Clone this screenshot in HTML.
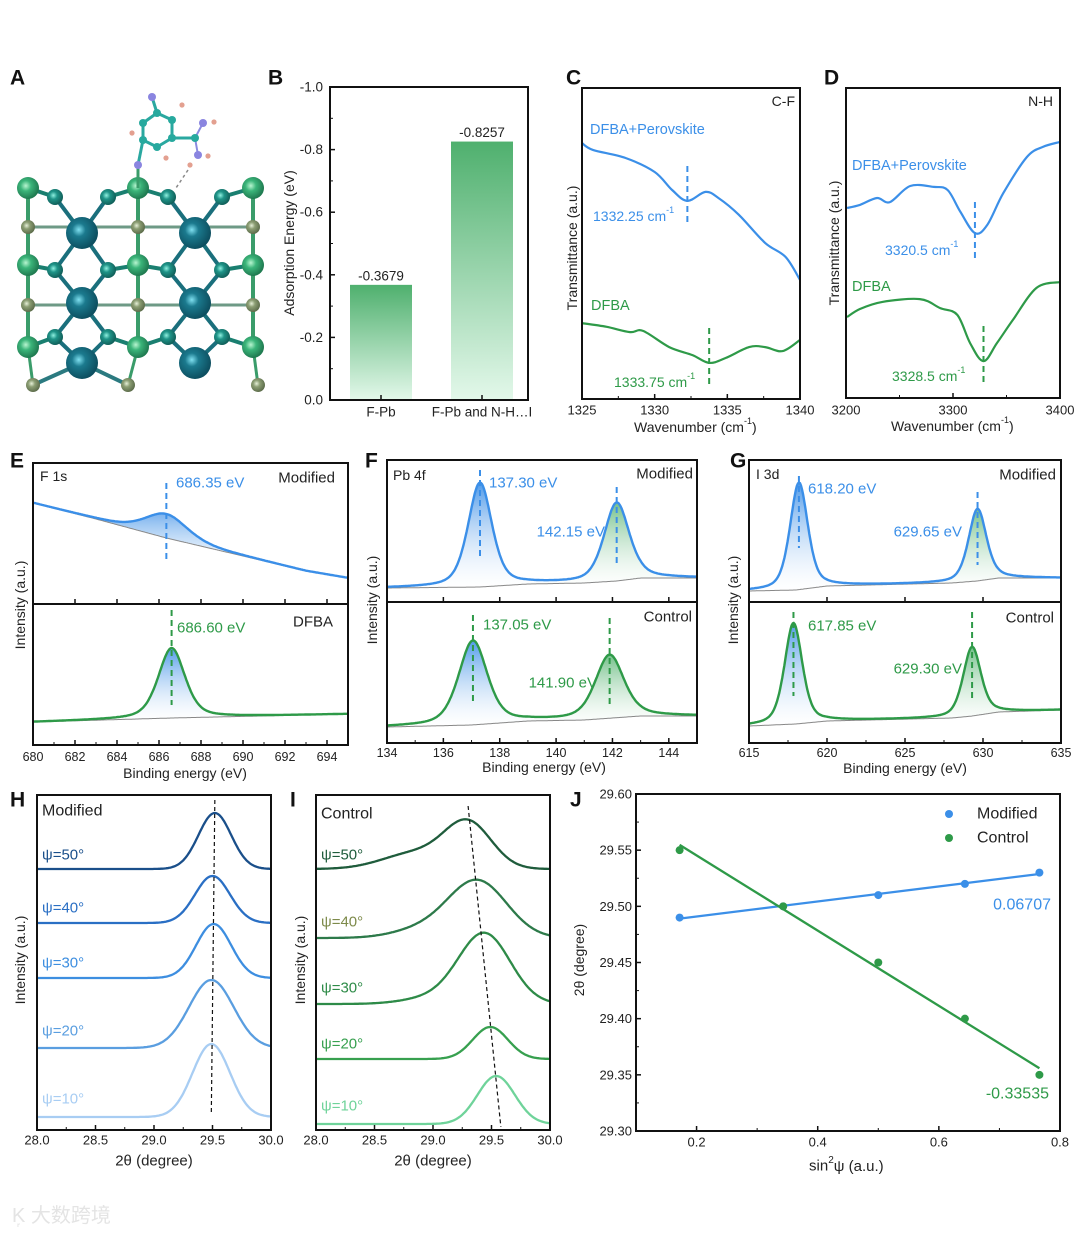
<!DOCTYPE html>
<html><head><meta charset="utf-8"><style>
html,body{margin:0;padding:0;background:#fff;}
svg{display:block;font-family:"Liberation Sans",Arial,sans-serif;}
</style></head><body>
<svg id="fig" width="1080" height="1234" viewBox="0 0 1080 1234" xmlns="http://www.w3.org/2000/svg">
<defs>
<linearGradient id="gBar" x1="0" y1="0" x2="0" y2="1"><stop offset="0" stop-color="#4fb06e"/><stop offset="1" stop-color="#e3f8ea"/></linearGradient>
<linearGradient id="gBlue" x1="0" y1="0" x2="0" y2="1"><stop offset="0" stop-color="#3d8fe6" stop-opacity="0.9"/><stop offset="1" stop-color="#ffffff" stop-opacity="0.2"/></linearGradient>
<linearGradient id="gGreen" x1="0" y1="0" x2="0" y2="1"><stop offset="0" stop-color="#3aa65a" stop-opacity="0.7"/><stop offset="1" stop-color="#ffffff" stop-opacity="0.2"/></linearGradient>
<radialGradient id="aPb" cx="0.4" cy="0.4" r="0.6"><stop offset="0" stop-color="#7fe0f0"/><stop offset="0.35" stop-color="#1b7a8e"/><stop offset="1" stop-color="#0d4f60"/></radialGradient>
<radialGradient id="aI" cx="0.4" cy="0.4" r="0.6"><stop offset="0" stop-color="#b8f5d0"/><stop offset="0.4" stop-color="#3bb57a"/><stop offset="1" stop-color="#1f7a50"/></radialGradient>
<radialGradient id="aS" cx="0.4" cy="0.4" r="0.6"><stop offset="0" stop-color="#8ff0e0"/><stop offset="0.4" stop-color="#1f9488"/><stop offset="1" stop-color="#11605a"/></radialGradient>
<radialGradient id="aO" cx="0.4" cy="0.4" r="0.6"><stop offset="0" stop-color="#e6f0d8"/><stop offset="0.4" stop-color="#8c9e74"/><stop offset="1" stop-color="#5e6e4c"/></radialGradient>
</defs>
<g id="panelA"></g>
<g id="root"></g>
<text x="12" y="1222" font-size="20" fill="#e4e4e4" font-family="'Liberation Sans','Noto Sans CJK SC',sans-serif">K᷊ 大数跨境</text>
</svg>
<script>
// ---------- Data ----------
// B
const bCats = ["F-Pb", "F-Pb and N-H…I"];
const bVals = [-0.3679, -0.8257];
const bTicks = ["0.0","-0.2","-0.4","-0.6","-0.8","-1.0"];
// C (FTIR C-F)
const cBlueX = [1325,1325.75,1328,1330,1331.2,1332.25,1333.5,1334.4,1335.8,1337.6,1339,1340];
const cBlueY = [82.3,80.1,77.5,73,67.2,63.7,66.6,64.6,59.2,50.2,45.7,38.3];
const cGreenX = [1325,1326.7,1328.3,1329.2,1331,1332.6,1333.75,1334.9,1336.5,1337.6,1338.8,1340];
const cGreenY = [24.4,23.2,21.5,21.9,16.7,14.1,11.6,13.2,16.7,16.7,15.4,19];
const cTicks = [1325,1330,1335,1340];
// D (FTIR N-H)
const dBlueX = [3201,3213,3229,3241,3260,3282,3295,3307,3320.5,3332,3347,3369,3384,3400];
const dBlueY = [61.3,62.3,64.5,63.2,68.4,68.1,67.1,60,53.2,55.8,66.1,77.7,81,82.6];
const dGreenX = [3201,3213,3234,3269,3288,3304,3316,3328.5,3341,3356,3378,3400];
const dGreenY = [26.1,28.7,31,31.9,29,26.8,17.7,11.9,17.7,25.2,35.5,37.4];
const dTicks = [3200,3300,3400];
// XPS: background points [x,y] and peaks [center,height,fwhm]
const eTopBg = [[680,101],[683,85],[686.35,66],[690,48],[693,33],[695,26]];
const eTopPeaks = [[686.35,24,2.4]];
const eBotBg = [[680,23],[686.6,27],[695,31]];
const eBotPeaks = [[686.6,70,1.5]];
const fTopBg = [[134,14],[137.3,15],[139,18],[141,19],[142.15,21],[143,24],[145,24]];
const fTopPeaks = [[137.30,104,1.0],[142.15,78,1.05]];
const fBotBg = [[134,16],[137,18],[139,22],[141,23],[142,25],[143,27],[145,27]];
const fBotPeaks = [[137.05,84,1.2],[141.90,63,1.2]];
const gTopBg = [[615,11],[618,12],[620,16],[628,19],[629.6,21],[631,24],[635,24]];
const gTopPeaks = [[618.20,107,1.35],[629.65,72,1.35]];
const gBotBg = [[615,17],[618,19],[620,22],[628,25],[629.3,27],[631,31],[635,33]];
const gBotPeaks = [[617.85,101,1.35],[629.30,69,1.35]];
const eTicks = [680,682,684,686,688,690,692,694];
const fTicks = [134,136,138,140,142,144];
const gTicks = [615,620,625,630,635];
// H / I XRD: offsets, peaks [center,height,sigma]
const psiLabels = ["ψ=50°","ψ=40°","ψ=30°","ψ=20°","ψ=10°"];
const hOffsets = [261,207,152,82,13];
const hPeaks = [[29.52,56,0.14],[29.50,47,0.15],[29.51,54,0.15],[29.49,68,0.19],[29.49,73,0.16]];
const iOffsets = [261,192,126,71,6];
const iPeaks = [[29.30,45,0.2],[29.38,57,0.25],[29.44,70,0.22],[29.49,32,0.15],[29.54,48,0.16]];
const iShoulder = [[28.85,16,0.28],[28.9,8,0.25],[29.0,6,0.25],[29.2,0,0.2],[29.3,0,0.2]];
const xrdTicks = ["28.0","28.5","29.0","29.5","30.0"];
// J
const jX = [0.172,0.343,0.5,0.643,0.766];
const jMod = [29.49,29.50,29.51,29.52,29.53];
const jCtl = [29.55,29.50,29.45,29.40,29.35];
const jXTicks = [0.2,0.4,0.6,0.8];
const jYTicks = [29.30,29.35,29.40,29.45,29.50,29.55,29.60];

// ---------- helpers ----------
const NS="http://www.w3.org/2000/svg";
const root=document.getElementById('root');
function mk(tag,attrs,parent){const e=document.createElementNS(NS,tag);for(const k in attrs)e.setAttribute(k,attrs[k]);(parent||root).appendChild(e);return e;}
function txt(s,x,y,o,parent){const e=mk('text',Object.assign({x:x,y:y,'font-size':14,fill:'#222','dominant-baseline':'central'},o||{}),parent);e.textContent=s;return e;}
function lin(d0,d1,r0,r1){return v=>r0+(v-d0)/(d1-d0)*(r1-r0);}
function pathD(xs,ys){return xs.map((x,i)=>(i?'L':'M')+x.toFixed(1)+','+ys[i].toFixed(1)).join('');}
function smooth(xs,ys){let d='M'+xs[0]+','+ys[0];for(let i=0;i<xs.length-1;i++){const x0=xs[i-1]??xs[i],y0=ys[i-1]??ys[i],x3=xs[i+2]??xs[i+1],y3=ys[i+2]??ys[i+1];const c1x=xs[i]+(xs[i+1]-x0)/6,c1y=ys[i]+(ys[i+1]-y0)/6,c2x=xs[i+1]-(x3-xs[i])/6,c2y=ys[i+1]-(y3-ys[i])/6;d+=`C${c1x.toFixed(1)},${c1y.toFixed(1)} ${c2x.toFixed(1)},${c2y.toFixed(1)} ${xs[i+1].toFixed(1)},${ys[i+1].toFixed(1)}`;}return d;}
function box(x0,y0,x1,y1,name){const r=mk('rect',{x:x0,y:y0,width:x1-x0,height:y1-y0,fill:'none',stroke:'#111','stroke-width':2});return r;}
function letter(s,x,y){const t=txt(s,x,y,{'font-size':21,'font-weight':'bold',fill:'#111'});}
function ylabel(s,x,y,name){const t=txt(s,x,y,{'text-anchor':'middle',transform:`rotate(-90 ${x} ${y})`,'font-size':14});}
function interp(pts,x){for(let i=0;i<pts.length-1;i++){if(x<=pts[i+1][0]){const t=(x-pts[i][0])/(pts[i+1][0]-pts[i][0]);return pts[i][1]+(pts[i+1][1]-pts[i][1])*t;}}return pts[pts.length-1][1];}
function lor(x,p){const g=p[2]/2;const L=1/(1+((x-p[0])/g)**2);const G=Math.exp(-Math.LN2*((x-p[0])/g)**2);return p[1]*(0.45*L+0.55*G);}
function dash(x,y0,y1,col,name){const l=mk('line',{x1:x,x2:x,y1:y0,y2:y1,stroke:col,'stroke-width':2,'stroke-dasharray':'6,4'});}
function tk(x1,y1,x2,y2,w,lo,hi,isX){const v=isX?x1:y1;if(v<lo-0.5||v>hi+0.5)return;mk('line',{x1:x1,y1:y1,x2:x2,y2:y2,stroke:'#111','stroke-width':w});}

// ---------- Panel A (structure) ----------
(function(){
 const g=document.getElementById('panelA');
 const bond=(a,b,c,w)=>{mk('line',{x1:a[0],y1:a[1],x2:b[0],y2:b[1],stroke:c||'#1d7e7a','stroke-width':w||4},g);};
 const cols=[28,138,253], pbX=[82,195], smX=[55,108,168,222];
 const Irows=[188,265,347], Orows=[227,305], smRows=[197,270,337], pbRows=[233,303,363];
 cols.forEach(x=>{bond([x,188],[x,347],'#3a9c6a',4);});
 [227,305].forEach(y=>bond([28,y],[253,y],'#6e9a86',3));
 pbX.forEach((px,k)=>{pbRows.forEach(py=>{[smX[2*k],smX[2*k+1]].forEach(sx=>{smRows.forEach(sy=>{if(Math.abs(sy-py)<45)bond([px,py],[sx,sy],'#1a6f7c',4);});});});});
 smRows.forEach((sy,ri)=>{smX.forEach(sx=>{const cx=cols.reduce((a,c)=>Math.abs(c-sx)<Math.abs(a-sx)?c:a);bond([sx,sy],[cx,Irows[ri]],'#1a7f70',4);});});
 bond([33,385],[82,363],'#2b7a80',4);bond([128,385],[82,363],'#2b7a80',4);bond([258,385],[253,347],'#3a9c6a',3);bond([28,347],[33,385],'#3a9c6a',3);bond([138,347],[128,385],'#3a9c6a',3);
 const at=(x,y,r,f)=>{mk('circle',{cx:x,cy:y,r:r,fill:f},g);};
 Orows.forEach(y=>cols.forEach(x=>at(x,y,7,'url(#aO)')));
 [[33,385],[128,385],[258,385]].forEach(p=>at(p[0],p[1],7,'url(#aO)'));
 smRows.forEach(y=>smX.forEach(x=>at(x,y,8,'url(#aS)')));
 Irows.forEach(y=>cols.forEach(x=>at(x,y,11,'url(#aI)')));
 pbRows.forEach(y=>pbX.forEach(x=>at(x,y,16,'url(#aPb)')));
 const ring=[[143,123],[157,113],[172,120],[172,138],[157,147],[143,140]];
 ring.forEach((p,i)=>bond(p,ring[(i+1)%6],'#2aa8a0',3));
 bond([143,140],[138,165],'#2aa8a0',3);bond([138,165],[138,188],'#3a9c6a',3);
 bond([157,113],[152,97],'#2aa8a0',3);bond([172,138],[195,138],'#2aa8a0',3);
 bond([195,138],[203,123],'#8a8ae0',2);bond([195,138],[198,155],'#8a8ae0',2);
 mk('line',{x1:188,y1:170,x2:176,y2:188,stroke:'#888','stroke-width':1.5,'stroke-dasharray':'3,3'},g);
 ring.forEach(p=>at(p[0],p[1],4,'#27a99e'));at(195,138,4,'#27a99e');
 [[152,97],[138,165],[203,123],[198,155]].forEach(p=>at(p[0],p[1],4,'#8a85e0'));
 [[132,133],[182,105],[166,158],[214,122],[208,156],[190,165]].forEach(p=>at(p[0],p[1],2.6,'#e3a090'));
})();

// ---------- Panel letters ----------
[["A",10,78],["B",268,78],["C",566,78],["D",824,78],["E",10,461],["F",365,461],["G",730,461],["H",10,800],["I",290,800],["J",570,800]].forEach(a=>letter(a[0],a[1],a[2]));

// ---------- Panel B ----------
(function(){
 const X0=330,X1=528,Y0=87,Y1=400; const y=lin(0,-1,Y1,Y0);
 const cx=[381,482], bw=62;
 bVals.forEach((v,i)=>{
  const r=mk('rect',{x:cx[i]-bw/2,y:y(v),width:bw,height:y(0)-y(v),fill:'url(#gBar)'});
  
  
  const t=txt(v.toFixed(4),cx[i],y(v)-9,{'text-anchor':'middle','font-size':13.5});
  
  
  const c=txt(bCats[i],cx[i],412,{'text-anchor':'middle','font-size':13.5});
  
  
  mk('line',{x1:cx[i],x2:cx[i],y1:Y1,y2:Y1-5,stroke:'#111','stroke-width':1.5});
 });
 bTicks.forEach(s=>{const v=parseFloat(s);tk(X0,y(v),X0+5,y(v),1.5,Y0,Y1,false);tk(X0,y(v+0.1),X0+3,y(v+0.1),1,Y0,Y1,false);
  const t=txt(s,323,y(v),{'text-anchor':'end','font-size':13.5});});
 box(X0,Y0,X1,Y1,'panel-b-axes');
 ylabel('Adsorption Energy (eV)',289,243,'y-axis-title-b');
})();

// ---------- Panels C, D ----------
function ftir(X0,X1,Y0,Y1,d0,d1,series,ticks,minor,cfg){
 const x=lin(d0,d1,X0,X1), y=lin(0,100,Y1,Y0);
 series.forEach(s=>{const p=mk('path',{d:smooth(s.xs.map(x),s.ys.map(y)),fill:'none',stroke:s.col,'stroke-width':2.2});});
 ticks.forEach(t=>{mk('line',{x1:x(t),x2:x(t),y1:Y1,y2:Y1-5,stroke:'#111','stroke-width':1.5});const l=txt(String(t),x(t),410,{'text-anchor':'middle','font-size':13});});
 for(let t=d0;t<=d1+1e-6;t+=minor)tk(x(t),Y1,x(t),Y1-3,1,X0,X1,true);
 box(X0,Y0,X1,Y1,cfg.name);
 return x;
}
(function(){
 const x=ftir(582,800,88,399,1325,1340,[{xs:cBlueX,ys:cBlueY,col:'#3b8fe8',name:'c-blue-curve'},{xs:cGreenX,ys:cGreenY,col:'#2e9a48',name:'c-green-curve'}],cTicks,2.5,{name:'panel-c-axes'});
 dash(x(1332.25),166,226,'#3b8fe8','c-blue-peak-marker');dash(x(1333.75),328,388,'#2e9a48','c-green-peak-marker');
 txt('C-F',795,101,{'text-anchor':'end','font-size':14});
 txt('DFBA+Perovskite',590,130,{'font-size':14.5,fill:'#3b8fe8'});
 const a=txt('1332.25 cm',593,216,{'font-size':14,fill:'#3b8fe8'});const s1=mk('tspan',{dy:-6,'font-size':9},a);s1.textContent='-1';
 txt('DFBA',591,306,{'font-size':14.5,fill:'#2e9a48'});
 const b=txt('1333.75 cm',614,382,{'font-size':14,fill:'#2e9a48'});const s2=mk('tspan',{dy:-6,'font-size':9},b);s2.textContent='-1';
 ylabel('Transmittance (a.u.)',572,248,'y-axis-title-c');
 const w=txt('Wavenumber (cm',634,427,{'font-size':14});const s3=mk('tspan',{dy:-6,'font-size':9},w);s3.textContent='-1';const s4=mk('tspan',{dy:6},w);s4.textContent=')';
})();
(function(){
 const x=ftir(846,1060,88,398,3200,3400,[{xs:dBlueX,ys:dBlueY,col:'#3b8fe8',name:'d-blue-curve'},{xs:dGreenX,ys:dGreenY,col:'#2e9a48',name:'d-green-curve'}],dTicks,50,{name:'panel-d-axes'});
 dash(x(3320.5),202,262,'#3b8fe8','d-blue-peak-marker');dash(x(3328.5),326,385,'#2e9a48','d-green-peak-marker');
 txt('N-H',1053,101,{'text-anchor':'end','font-size':14});
 txt('DFBA+Perovskite',852,166,{'font-size':14.5,fill:'#3b8fe8'});
 const a=txt('3320.5 cm',885,250,{'font-size':14,fill:'#3b8fe8'});const s1=mk('tspan',{dy:-6,'font-size':9},a);s1.textContent='-1';
 txt('DFBA',852,287,{'font-size':14.5,fill:'#2e9a48'});
 const b=txt('3328.5 cm',892,376,{'font-size':14,fill:'#2e9a48'});const s2=mk('tspan',{dy:-6,'font-size':9},b);s2.textContent='-1';
 ylabel('Transmittance (a.u.)',834,243,'y-axis-title-d');
 const w=txt('Wavenumber (cm',891,426,{'font-size':14});const s3=mk('tspan',{dy:-6,'font-size':9},w);s3.textContent='-1';const s4=mk('tspan',{dy:6},w);s4.textContent=')';
})();

// ---------- XPS ----------
function xpsSub(X0,X1,Ytop,Ybot,d0,d1,bg,peaks,lineCol,fills,name){
 const x=lin(d0,d1,X0,X1), y=v=>Ybot-v;
 const N=300, xs=[], bgY=[], fit=[];
 for(let i=0;i<=N;i++){const v=d0+(d1-d0)*i/N;xs.push(v);const b=interp(bg,v);bgY.push(b);fit.push(b+peaks.reduce((s,p)=>s+lor(v,p),0));}
 peaks.forEach((p,k)=>{
  const top=xs.map((v,i)=>bgY[i]+lor(v,p));
  const d=pathD(xs.map(x),top.map(y))+'L'+xs.slice().reverse().map((v,i)=>x(v).toFixed(1)+','+y(bgY[N-i]).toFixed(1)).join('L')+'Z';
  const f=mk('path',{d:d,fill:fills[k],stroke:'none'});
  
  
 });
 const b=mk('path',{d:pathD(xs.map(x),bgY.map(y)),fill:'none',stroke:'#888','stroke-width':1});
 
 
 const l=mk('path',{d:pathD(xs.map(x),fit.map(y)),fill:'none',stroke:lineCol,'stroke-width':2.4});
 
 
 return x;
}
function xpsFrame(X0,X1,Y0,Ym,Y1,d0,d1,ticks,minor,tickY,name){
 const x=lin(d0,d1,X0,X1);
 ticks.forEach(t=>{[Y1,Ym].forEach(yy=>tk(x(t),yy,x(t),yy-5,1.5,X0,X1,true));const l=txt(String(t),x(t),tickY,{'text-anchor':'middle','font-size':12.5});});
 for(let t=d0;t<=d1+1e-6;t+=minor)tk(x(t),Y1,x(t),Y1-3,1,X0,X1,true);
 mk('line',{x1:X0,x2:X1,y1:Ym,y2:Ym,stroke:'#111','stroke-width':2});
 box(X0,Y0,X1,Y1,name);
}
const BL='#3b8fe8', GR='#2e9a48';
(function(){ // E
 const X0=33,X1=348;
 const x=xpsSub(X0,X1,463,604,680,695,eTopBg,eTopPeaks,BL,['url(#gBlue)'],'e-modified-fit');
 xpsSub(X0,X1,604,745,680,695,eBotBg,eBotPeaks,GR,['url(#gBlue)'],'e-dfba-fit');
 xpsFrame(X0,X1,463,604,745,680,695,eTicks,1,757,'panel-e-axes');
 dash(x(686.35),483,560,BL,'e-top-marker');dash(x(686.6),610,705,GR,'e-bottom-marker');
 txt('F 1s',40,476,{'font-size':14});txt('686.35 eV',176,483,{'font-size':15,fill:BL});txt('Modified',335,478,{'text-anchor':'end','font-size':15});
 txt('686.60 eV',177,628,{'font-size':15,fill:GR});txt('DFBA',333,622,{'text-anchor':'end','font-size':15});
 ylabel('Intensity (a.u.)',20,605,'y-axis-title-e');txt('Binding energy (eV)',185,773,{'text-anchor':'middle','font-size':14});
})();
(function(){ // F
 const X0=387,X1=697;
 const x=xpsSub(X0,X1,460,602,134,145,fTopBg,fTopPeaks,BL,['url(#gBlue)','url(#gGreen)'],'f-modified-fit');
 xpsSub(X0,X1,602,743,134,145,fBotBg,fBotPeaks,GR,['url(#gBlue)','url(#gGreen)'],'f-control-fit');
 xpsFrame(X0,X1,460,602,743,134,145,fTicks,1,753,'panel-f-axes');
 dash(x(137.3),470,560,BL,'f-top-marker-1');dash(x(142.15),487,565,BL,'f-top-marker-2');
 dash(x(137.05),615,705,GR,'f-bot-marker-1');dash(x(141.9),618,705,GR,'f-bot-marker-2');
 txt('Pb 4f',393,475,{'font-size':14});txt('137.30 eV',489,483,{'font-size':15,fill:BL});txt('142.15 eV',605,532,{'text-anchor':'end','font-size':15,fill:BL});txt('Modified',693,474,{'text-anchor':'end','font-size':15});
 txt('137.05 eV',483,625,{'font-size':15,fill:GR});txt('141.90 eV',597,683,{'text-anchor':'end','font-size':15,fill:GR});txt('Control',692,617,{'text-anchor':'end','font-size':15});
 ylabel('Intensity (a.u.)',372,600,'y-axis-title-f');txt('Binding energy (eV)',544,767,{'text-anchor':'middle','font-size':14});
})();
(function(){ // G
 const X0=749,X1=1061;
 const x=xpsSub(X0,X1,460,602,615,635,gTopBg,gTopPeaks,BL,['url(#gBlue)','url(#gGreen)'],'g-modified-fit');
 xpsSub(X0,X1,602,743,615,635,gBotBg,gBotPeaks,GR,['url(#gBlue)','url(#gGreen)'],'g-control-fit');
 xpsFrame(X0,X1,460,602,743,615,635,gTicks,2.5,753,'panel-g-axes');
 dash(x(618.2),476,548,BL,'g-top-marker-1');dash(x(629.65),492,565,BL,'g-top-marker-2');
 dash(x(617.85),612,696,GR,'g-bot-marker-1');dash(x(629.3),612,700,GR,'g-bot-marker-2');
 txt('I 3d',756,474,{'font-size':14});txt('618.20 eV',808,489,{'font-size':15,fill:BL});txt('629.65 eV',962,532,{'text-anchor':'end','font-size':15,fill:BL});txt('Modified',1056,475,{'text-anchor':'end','font-size':15});
 txt('617.85 eV',808,626,{'font-size':15,fill:GR});txt('629.30 eV',962,669,{'text-anchor':'end','font-size':15,fill:GR});txt('Control',1054,618,{'text-anchor':'end','font-size':15});
 ylabel('Intensity (a.u.)',733,600,'y-axis-title-g');txt('Binding energy (eV)',905,768,{'text-anchor':'middle','font-size':14});
})();

// ---------- H / I ----------
function gau(v,p){return p[1]*Math.exp(-0.5*((v-p[0])/p[2])**2);}
function xrd(X0,X1,Y0,Y1,offsets,peaks,extra,cols,labCols,labY,title,dashPts,name,pref){
 const x=lin(28,30,X0,X1), y=v=>Y1-v;
 offsets.forEach((o,k)=>{
  const xs=[],ys=[];for(let i=0;i<=200;i++){const v=28+2*i/200;xs.push(x(v));ys.push(y(o+gau(v,peaks[k])+(extra?gau(v,extra[k]):0)));}
  const p=mk('path',{d:pathD(xs,ys),fill:'none',stroke:cols[k],'stroke-width':2.3});
  
  
  const t=txt(psiLabels[k],X0+5,labY[k],{'font-size':15,fill:labCols[k]});
  
  
 });
 mk('line',{x1:x(dashPts[0]),y1:dashPts[1],x2:x(dashPts[2]),y2:dashPts[3],stroke:'#111','stroke-width':1.2,'stroke-dasharray':'4,3'});
 xrdTicks.forEach(s=>{const v=parseFloat(s);tk(x(v),Y1,x(v),Y1-5,1.5,X0,X1,true);tk(x(v+0.25),Y1,x(v+0.25),Y1-3,1,X0,X1,true);const l=txt(s,x(v),1140,{'text-anchor':'middle','font-size':13});});
 box(X0,Y0,X1,Y1,name);
 txt('2θ (degree)',(X0+X1)/2,1161,{'text-anchor':'middle','font-size':15});
 txt(title,X0+5,title==='Modified'?811:814,{'font-size':16});
}
xrd(37,271,795,1130,hOffsets,hPeaks,null,['#1a4f8a','#2a6fc4','#3d8ee0','#5a9ee0','#a8cdf3'],['#1a4f8a','#2a6fc4','#3d8ee0','#5a9ee0','#a8cdf3'],[855,908,963,1031,1099],'Modified',[29.52,800,29.49,1112],'panel-h-axes','h');
xrd(316,550,795,1130,iOffsets,iPeaks,iShoulder,['#1f5c3c','#2d7a4a','#2e8b48','#37a04f','#6fd39a'],['#1f5c3c','#7d8a4a','#2e8b48','#37a04f','#6fd39a'],[855,922,988,1044,1106],'Control',[29.3,806,29.58,1127],'panel-i-axes','i');
ylabel('Intensity (a.u.)',20,960,'y-axis-title-h');ylabel('Intensity (a.u.)',300,960,'y-axis-title-i');

// ---------- J ----------
(function(){
 const X0=636,X1=1060,Y0=794,Y1=1131;
 const x=lin(0.1,0.8,X0,X1), y=lin(29.30,29.60,Y1,Y0);
 function fit(xs,ys){const n=xs.length,mx=xs.reduce((a,b)=>a+b)/n,my=ys.reduce((a,b)=>a+b)/n;let sxy=0,sxx=0;xs.forEach((v,i)=>{sxy+=(v-mx)*(ys[i]-my);sxx+=(v-mx)**2;});const m=sxy/sxx;return [m,my-m*mx];}
 [[jMod,BL,'modified'],[jCtl,GR,'control']].forEach(s=>{
  const f=fit(jX,s[0]);const a=jX[0],b=jX[jX.length-1];
  const l=mk('line',{x1:x(a),y1:y(f[1]+f[0]*a),x2:x(b),y2:y(f[1]+f[0]*b),stroke:s[1],'stroke-width':2.3});
  
  
  s[0].forEach((v,i)=>{const c=mk('circle',{cx:x(jX[i]),cy:y(v),r:4,fill:s[1]});
   
   });
 });
 jXTicks.forEach(t=>{tk(x(t),Y1,x(t),Y1-5,1.5,X0,X1,true);tk(x(t-0.1),Y1,x(t-0.1),Y1-3,1,X0,X1,true);const l=txt(t.toFixed(1),x(t),1142,{'text-anchor':'middle','font-size':13});});
 jYTicks.forEach(t=>{tk(X0,y(t),X0+5,y(t),1.5,Y0,Y1,false);tk(X0,y(t+0.025),X0+3,y(t+0.025),1,Y0,Y1,false);const l=txt(t.toFixed(2),632,y(t),{'text-anchor':'end','font-size':13});});
 box(X0,Y0,X1,Y1,'panel-j-axes');
 mk('circle',{cx:949,cy:814,r:4,fill:BL});mk('circle',{cx:949,cy:838,r:4,fill:GR});
 const l1=txt('Modified',977,814,{'font-size':16});
 const l2=txt('Control',977,838,{'font-size':16});
 txt('0.06707',1051,905,{'text-anchor':'end','font-size':16,fill:BL});
 txt('-0.33535',1049,1094,{'text-anchor':'end','font-size':16,fill:GR});
 ylabel('2θ (degree)',579,960,'y-axis-title-j');
 const xt=txt('sin',809,1166,{'font-size':15});const s1=mk('tspan',{dy:-6,'font-size':10},xt);s1.textContent='2';const s2=mk('tspan',{dy:6},xt);s2.textContent='ψ (a.u.)';
})();
</script>
</body></html>
